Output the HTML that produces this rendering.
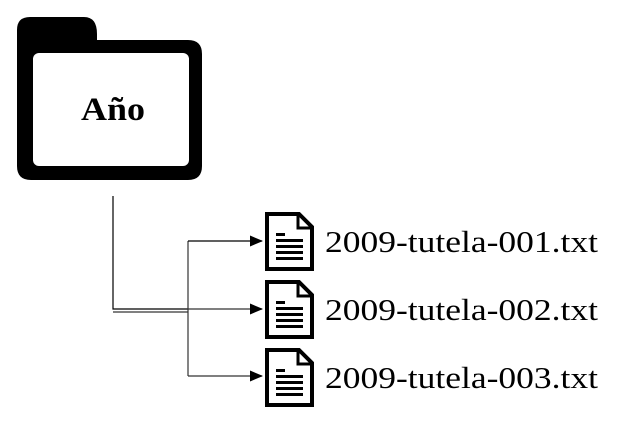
<!DOCTYPE html>
<html><head><meta charset="utf-8"><style>
html,body{margin:0;padding:0;background:#fff;}
svg{display:block;}
</style></head><body>
<svg width="632" height="424" viewBox="0 0 632 424" xmlns="http://www.w3.org/2000/svg">
<defs>
<g id="doc">
<path d="M0 0 H32 L45 13 V55 H0 Z" fill="#fff" stroke="#000" stroke-width="4" stroke-linejoin="miter"/>
<path d="M31 0 V14 H45" fill="none" stroke="#000" stroke-width="3"/>
<rect x="9" y="19" width="9" height="3" fill="#000"/>
<rect x="9" y="25" width="27" height="3" fill="#000"/>
<rect x="9" y="31" width="27" height="3" fill="#000"/>
<rect x="9" y="37" width="27" height="3" fill="#000"/>
<rect x="9" y="43" width="27" height="3" fill="#000"/>
</g>
<marker id="ar" markerWidth="13" markerHeight="11" refX="12" refY="5.5" orient="auto" markerUnits="userSpaceOnUse">
<path d="M0 0 L13 5.5 L0 11 Z" fill="#000"/>
</marker>
</defs>
<path d="M17 30 Q17 17 30 17 H84 Q97 17 97 34 V40 H188 Q202 40 202 54 V166 Q202 180 188 180 H31 Q17 180 17 166 Z" fill="#000"/>
<rect x="33" y="53" width="156" height="113" rx="6" fill="#fff"/>
<text x="113" y="120" font-family="Liberation Serif, serif" font-weight="bold" font-size="33" text-anchor="middle" textLength="64" lengthAdjust="spacingAndGlyphs">Año</text>
<path d="M113 196 V309 H188" fill="none" stroke="#000" stroke-width="1.2"/>
<path d="M113 312 H188" fill="none" stroke="#000" stroke-width="1"/>
<path d="M188 241 V376" fill="none" stroke="#333" stroke-width="1.2"/>
<path d="M188 241 H262" fill="none" stroke="#000" stroke-width="1.2" marker-end="url(#ar)"/>
<path d="M188 309 H262" fill="none" stroke="#333" stroke-width="1.2" marker-end="url(#ar)"/>
<path d="M188 376 H262" fill="none" stroke="#333" stroke-width="1.2" marker-end="url(#ar)"/>
<use href="#doc" x="267" y="214"/>
<use href="#doc" x="267" y="282"/>
<use href="#doc" x="267" y="350"/>
<g font-family="Liberation Serif, serif" font-size="31" fill="#000">
<text x="325" y="252" textLength="273" lengthAdjust="spacingAndGlyphs">2009-tutela-001.txt</text>
<text x="325" y="320" textLength="273" lengthAdjust="spacingAndGlyphs">2009-tutela-002.txt</text>
<text x="325" y="388" textLength="273" lengthAdjust="spacingAndGlyphs">2009-tutela-003.txt</text>
</g>
</svg>
</body></html>
